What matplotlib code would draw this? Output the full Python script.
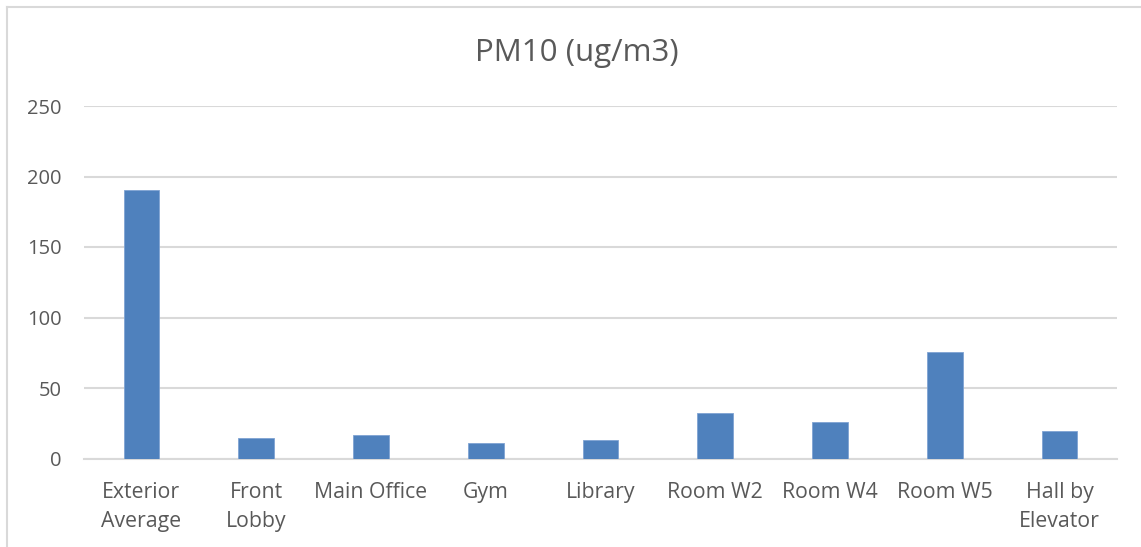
import matplotlib
matplotlib.use('Agg')

import matplotlib.pyplot as plt
from matplotlib.lines import Line2D

categories = ['Exterior\nAverage', 'Front\nLobby', 'Main Office', 'Gym', 'Library',
              'Room W2', 'Room W4', 'Room W5', 'Hall by\nElevator']
pm10 = [190.6, 14.8, 16.5, 11.2, 12.8, 32.1, 25.7, 75.8, 19.3]
yticks = [0, 50, 100, 150, 200, 250]

plt.rcParams['font.family'] = ['Open Sans', 'DejaVu Sans']
text_color = '#595959'
grid_color = '#D9D9D9'

fig = plt.figure(figsize=(11.41, 5.47), dpi=100)
ax = fig.add_axes([84/1141, 1 - 458.5/547, (1117 - 84)/1141, (458.5 - 106)/547])

x = list(range(len(categories)))
ax.bar(x, pm10, width=0.31, color='#4F81BD', edgecolor='#7FA3D3', linewidth=0.6, zorder=3)

ax.set_xlim(-0.5, len(categories) - 0.5)
ax.set_ylim(0, 250)
ax.set_yticks(yticks)
ax.set_xticks(x)
ax.set_xticklabels(categories, fontsize=15.3, color=text_color, linespacing=1.5, va='top')
ax.set_yticklabels([str(v) for v in yticks], fontsize=14.5, color=text_color)
ax.tick_params(axis='both', length=0)
ax.tick_params(axis='x', pad=17)
ax.tick_params(axis='y', pad=16)

ax.yaxis.grid(True, color=grid_color, linewidth=1.5, zorder=0)
for s in ['top', 'right', 'left']:
    ax.spines[s].set_visible(False)
ax.spines['bottom'].set_color(grid_color)
ax.spines['bottom'].set_linewidth(1.5)

fig.text(577/1141, 1 - 53/547, 'PM10 (ug/m3)', fontsize=22.5, color=text_color,
         ha='center', va='center')

# chart frame (top and left edges visible)
fig.add_artist(Line2D([7/1141, 1], [1 - 7/547, 1 - 7/547], color=grid_color, linewidth=1.5,
                      transform=fig.transFigure))
fig.add_artist(Line2D([7/1141, 7/1141], [0, 1 - 7/547], color=grid_color, linewidth=1.5,
                      transform=fig.transFigure))

fig.savefig('out.png', dpi=100)
